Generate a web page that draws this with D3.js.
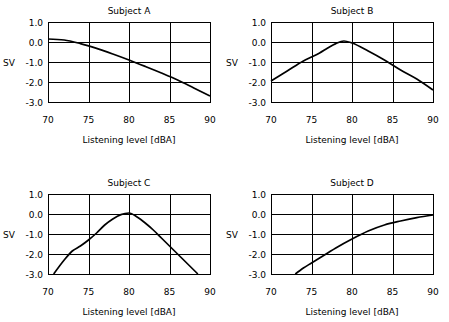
<!DOCTYPE html>
<html><head><meta charset="utf-8">
<script src="https://cdn.jsdelivr.net/npm/d3@7"></script>
<style>
html,body{margin:0;padding:0;background:#fff;}
svg{display:block;}
text{font-family:"DejaVu Sans",sans-serif;font-size:9px;fill:#000;}
</style></head>
<body>
<svg id="c" width="449" height="322"></svg>
<script>
const subjects = ["Subject A","Subject B","Subject C","Subject D"];
const xTicks = [70,75,80,85,90];
const yTicks = [1.0,0.0,-1.0,-2.0,-3.0];
const xLabel = "Listening level [dBA]";
const yLabel = "SV";
const levelA = [70,72,74,76,78,80,82,84,86,88,90];
const svA    = [0.15,0.1,-0.08,-0.32,-0.6,-0.9,-1.22,-1.55,-1.9,-2.3,-2.7];
const levelB = [70,72,74,75,76,77,78,79,80,82,84,86,88,90];
const svB    = [-1.95,-1.45,-0.95,-0.75,-0.55,-0.3,-0.08,0.05,-0.05,-0.45,-0.9,-1.4,-1.85,-2.4];
const levelC = [70.7,72,73,74,75,76,77,78,79,80,81,82,83,84,85,86,87,88,88.5];
const svC    = [-3.0,-2.3,-1.85,-1.6,-1.3,-0.95,-0.55,-0.25,-0.03,0.05,-0.15,-0.45,-0.8,-1.2,-1.6,-2.0,-2.4,-2.8,-3.0];
const levelD = [73,74,75,76,77,78,80,82,84,86,88,90];
const svD    = [-3.0,-2.7,-2.45,-2.2,-1.95,-1.7,-1.25,-0.85,-0.55,-0.35,-0.18,-0.05];

const levels = [levelA,levelB,levelC,levelD];
const svs = [svA,svB,svC,svD];
const colX = [48,271];
const rowY = [22,194];
const W = 162, H = 80;

const svg = d3.select("#c");
subjects.forEach((name,i)=>{
  const ox = colX[i%2], oy = rowY[Math.floor(i/2)];
  const g = svg.append("g").attr("transform",`translate(${ox},${oy})`);
  const x = d3.scaleLinear().domain([70,90]).range([0,W]);
  const y = d3.scaleLinear().domain([-3,1]).range([H,0]);
  g.selectAll(".vg").data(xTicks).join("line")
    .attr("x1",d=>Math.round(x(d))+0.5).attr("x2",d=>Math.round(x(d))+0.5)
    .attr("y1",0).attr("y2",H).attr("stroke","#000").attr("stroke-width",1);
  g.selectAll(".hg").data(yTicks).join("line")
    .attr("y1",d=>Math.round(y(d))+0.5).attr("y2",d=>Math.round(y(d))+0.5)
    .attr("x1",0).attr("x2",W).attr("stroke","#000").attr("stroke-width",1);
  g.append("rect").attr("x",0.5).attr("y",0.5).attr("width",W).attr("height",H)
    .attr("fill","none").attr("stroke","#000");
  g.selectAll(".yl").data(yTicks).join("text")
    .attr("x",-5).attr("y",d=>y(d)+3.5).attr("text-anchor","end")
    .text(d=>d.toFixed(1));
  g.selectAll(".xl").data(xTicks).join("text")
    .attr("x",d=>x(d)).attr("y",H+21).attr("text-anchor","middle")
    .text(d=>d);
  g.append("text").attr("x",W/2).attr("y",H+41).attr("text-anchor","middle").text(xLabel);
  g.append("text").attr("x",W/2).attr("y",-8).attr("text-anchor","middle").text(name);
  g.append("text").attr("x",-45).attr("y",y(-1)+3.5).attr("text-anchor","start").text(yLabel);
  const line = d3.line().x(d=>x(d[0])).y(d=>y(d[1])).curve(d3.curveMonotoneX);
  const pts = levels[i].map((l,k)=>[l,svs[i][k]]);
  g.append("path").attr("d",line(pts)).attr("fill","none").attr("stroke","#000").attr("stroke-width",1.7);
});
</script>
</body></html>
